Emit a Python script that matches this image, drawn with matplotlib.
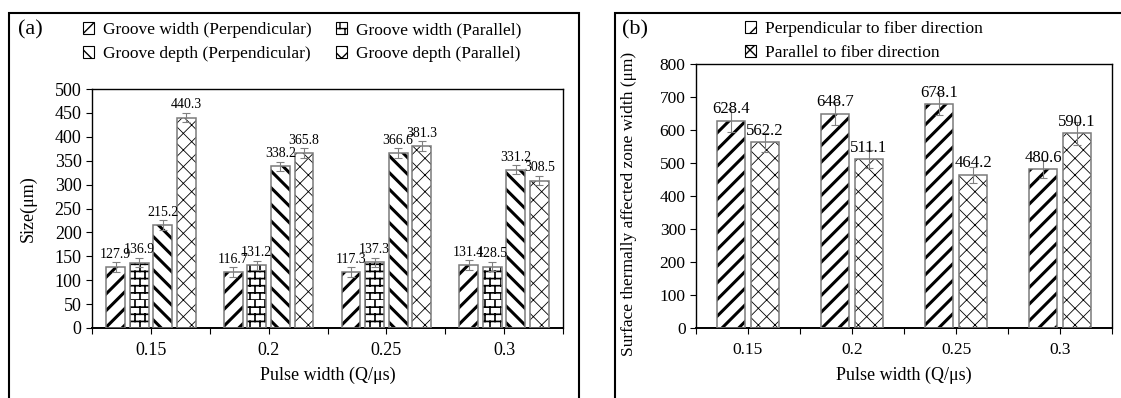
import warnings
import numpy as np
import matplotlib
matplotlib.use("Agg")
import matplotlib.pyplot as plt
import matplotlib.hatch as mhatch
from matplotlib.path import Path
from matplotlib.patches import Patch, Rectangle

warnings.filterwarnings("ignore")

# -----------------------------
# Données
# -----------------------------
pulse = ["0.15", "0.2", "0.25", "0.3"]

gw_perp = [127.9, 116.7, 117.3, 131.4]
gw_par = [136.9, 131.2, 137.3, 128.5]
gd_perp = [215.2, 338.2, 366.6, 331.2]
gd_par = [440.3, 365.8, 381.3, 308.5]
gw_perp_err = [10, 10, 10, 10]
gw_par_err = [10, 10, 10, 10]
gd_perp_err = [10, 10, 10, 10]
gd_par_err = [10, 10, 10, 10]

haz_perp = [628.4, 648.7, 678.1, 480.6]
haz_par = [562.2, 511.1, 464.2, 590.1]
haz_perp_err = [35, 35, 33, 27]
haz_par_err = [29, 27, 25, 35]


# motif "brique" (pas dispo dans matplotlib)
class BrickHatch(mhatch.HatchPatternBase):
    def __init__(self, hatch, density):
        n = hatch.count('b')
        self.rows = 14 * n
        self.cols = 10 * n
        self.num_vertices = (self.rows + self.rows * self.cols) * 2

    def set_vertices_and_codes(self, vertices, codes):
        i = 0
        h = 1.0 / self.rows
        w = 1.0 / self.cols
        for r in range(self.rows):
            y = r * h
            vertices[i] = (0.0, y)
            vertices[i + 1] = (1.0, y)
            i += 2
            off = 0.0 if r % 2 == 0 else w / 2
            for c in range(self.cols):
                x = c * w + off
                vertices[i] = (x, y)
                vertices[i + 1] = (x, y + h)
                i += 2
        codes[0::2] = Path.MOVETO
        codes[1::2] = Path.LINETO


mhatch._hatch_types.append(BrickHatch)

plt.rcParams['font.family'] = ['Liberation Serif', 'DejaVu Serif']
plt.rcParams['axes.linewidth'] = 1.0

fig = plt.figure(figsize=(11.21, 3.98), dpi=100)

W, H = 1121, 398
ax1 = fig.add_axes([92 / W, 1 - 328 / H, (563 - 92) / W, (328 - 89) / H])
ax2 = fig.add_axes([696 / W, 1 - 328 / H, (1112 - 696) / W, (328 - 64) / H])

# cadres des deux sous-figures
fig.add_artist(Rectangle((8.5 / W, -0.05), (579 - 8.5) / W, 1.05 - 12.5 / H,
                         transform=fig.transFigure, fill=False, lw=1.5, color="black"))
fig.add_artist(Rectangle((615 / W, -0.05), 0.5, 1.05 - 12.5 / H,
                         transform=fig.transFigure, fill=False, lw=1.5, color="black"))


def hatched_bar(ax, x, vals, width, hatch, hlw):
    bars = ax.bar(x, vals, width=width, color="white", edgecolor="black",
                  linewidth=0, hatch=hatch, zorder=2)
    for b in bars:
        if hasattr(b, "set_hatch_linewidth"):
            b.set_hatch_linewidth(hlw)
    ax.bar(x, vals, width=width, fill=False, edgecolor="#7a7a7a",
           linewidth=1.1, zorder=3)


def legend_patch(hatch, hlw):
    p = Patch(facecolor="white", edgecolor="black", linewidth=0.8, hatch=hatch)
    if hasattr(p, "set_hatch_linewidth"):
        p.set_hatch_linewidth(hlw)
    return p


# -----------------------------
# (a) Largeur et profondeur des rainures
# -----------------------------
x = np.arange(len(pulse))
w = 0.16
series_a = [
    (gw_perp, gw_perp_err, "//", 2.2, -0.3),
    (gw_par, gw_par_err, "b", 1.2, -0.1),
    (gd_perp, gd_perp_err, "\\\\", 2.2, 0.1),
    (gd_par, gd_par_err, "xx", 0.6, 0.3),
]
for vals, err, hatch, hlw, off in series_a:
    hatched_bar(ax1, x + off, vals, w, hatch, hlw)
    ax1.errorbar(x + off, vals, yerr=err, fmt="none", ecolor="#808080",
                 elinewidth=0.8, capsize=3, capthick=0.8, zorder=4)
    for xi, v, e in zip(x + off, vals, err):
        ax1.annotate(f"{v:.1f}", (xi, v + e), xytext=(0, 1.0),
                     textcoords="offset points", ha="center", va="bottom",
                     fontsize=10, zorder=5)

ax1.set_xlim(-0.5, 3.5)
ax1.set_ylim(0, 500)
ax1.set_yticks(range(0, 501, 50))
ax1.set_xticks(x)
ax1.set_xticklabels(pulse)
ax1.set_xticks(np.arange(-0.5, 3.6, 1), minor=True)
ax1.tick_params(axis="both", which="both", direction="out", length=4, width=0.8,
                labelsize=13)
ax1.tick_params(axis="x", pad=6)
ax1.spines["bottom"].set_linewidth(1.4)
ax1.set_ylabel("Size(μm)", fontsize=13)
ax1.yaxis.set_label_coords(-0.117, 0.5)
ax1.set_xlabel("Pulse width (Q/μs)", fontsize=13)
ax1.xaxis.set_label_coords(0.5, (328 - 375) / 239)
ax1.xaxis.label.set_va("center")

handles_a = [legend_patch("//", 1.5), legend_patch("\\\\", 1.5),
             legend_patch("b", 1.0), legend_patch("xx", 0.6)]
labels_a = ["Groove width (Perpendicular)", "Groove depth (Perpendicular)",
            "Groove width (Parallel)", "Groove depth (Parallel)"]
fig.legend(handles_a, labels_a, loc="upper left", bbox_to_anchor=(83 / W, 1 - 22 / H),
           ncol=2, frameon=False, fontsize=12.5, borderpad=0, borderaxespad=0,
           handlelength=0.65, handleheight=0.65, handletextpad=0.5,
           columnspacing=1.4, labelspacing=0.45)
fig.text(18 / W, 1 - 30 / H, "(a)", fontsize=16, va="center", ha="left")

# -----------------------------
# (b) Zone affectée thermiquement
# -----------------------------
w2 = 0.265
series_b = [
    (haz_perp, haz_perp_err, "//", 2.2, -0.163),
    (haz_par, haz_par_err, "xx", 0.6, 0.163),
]
for vals, err, hatch, hlw, off in series_b:
    hatched_bar(ax2, x + off, vals, w2, hatch, hlw)
    ax2.errorbar(x + off, vals, yerr=err, fmt="none", ecolor="#808080",
                 elinewidth=0.8, capsize=3, capthick=0.8, zorder=4)
    for xi, v in zip(x + off, vals):
        ax2.annotate(f"{v:.1f}", (xi, v), xytext=(0, 2.5),
                     textcoords="offset points", ha="center", va="bottom",
                     fontsize=12, zorder=5)

ax2.set_xlim(-0.5, 3.5)
ax2.set_ylim(0, 800)
ax2.set_yticks(range(0, 801, 100))
ax2.set_xticks(x)
ax2.set_xticklabels(pulse)
ax2.set_xticks(np.arange(-0.5, 3.6, 1), minor=True)
ax2.tick_params(axis="both", which="both", direction="out", length=4, width=0.8,
                labelsize=12.5)
ax2.tick_params(axis="x", pad=6)
ax2.spines["bottom"].set_linewidth(1.4)
ax2.set_ylabel("Surface thermally affected zone width (μm)", fontsize=12.5)
ax2.yaxis.set_label_coords((637 - 696) / 416, 0.47)
ax2.set_xlabel("Pulse width (Q/μs)", fontsize=13)
ax2.xaxis.set_label_coords(0.5, (328 - 375) / 264)
ax2.xaxis.label.set_va("center")

handles_b = [legend_patch("//", 1.5), legend_patch("xx", 0.6)]
labels_b = ["Perpendicular to fiber direction", "Parallel to fiber direction"]
fig.legend(handles_b, labels_b, loc="upper left", bbox_to_anchor=(745 / W, 1 - 21 / H),
           ncol=1, frameon=False, fontsize=12.5, borderpad=0, borderaxespad=0,
           handlelength=0.65, handleheight=0.65, handletextpad=0.5,
           labelspacing=0.45)
fig.text(622 / W, 1 - 30 / H, "(b)", fontsize=16, va="center", ha="left")

fig.savefig("out.png", dpi=100)
